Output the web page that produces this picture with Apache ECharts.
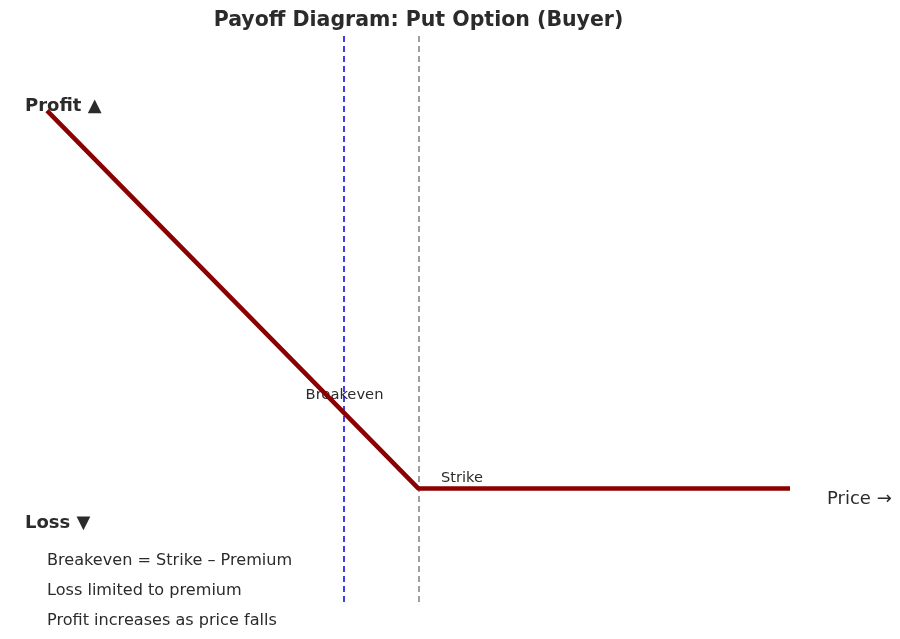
<!DOCTYPE html>
<html><head><meta charset="utf-8">
<script src="https://cdn.jsdelivr.net/npm/echarts@6/dist/echarts.min.js"></script>
<style>html,body{margin:0;padding:0;background:#fff}#c{width:900px;height:639px}</style>
</head><body><div id="c"></div>
<script>
const prices = [50, 100, 150];
const payoff = [40, -10, -10];
const strike = 100;
const breakeven = 90;
const titleText = 'Payoff Diagram: Put Option (Buyer)';
const notes = ['Breakeven = Strike – Premium', 'Loss limited to premium', 'Profit increases as price falls'];

const chart = echarts.init(document.getElementById('c'));
const F = 'DejaVu Sans';
const txt = (x, y, text, size, weight, align, z) => ({
  type: 'text', x: x, y: y, z: z || 10,
  style: { text: text, font: (weight || 'normal') + ' ' + size + 'px "' + F + '"', fill: '#2b2b2b', textAlign: align || 'left', textVerticalAlign: 'middle' }
});
chart.setOption({
  animation: false,
  backgroundColor: '#fff',
  grid: { left: 47, right: 110, top: 35, bottom: 37 },
  xAxis: { type: 'value', min: 50, max: 150, show: false },
  yAxis: { type: 'value', min: -25, max: 50, show: false },
  series: [{
    type: 'line', data: prices.map((p, i) => [p, payoff[i]]), symbol: 'none', z: 5,
    lineStyle: { color: '#8b0000', width: 4.5 },
    markLine: {
      silent: true, symbol: 'none', label: { show: false }, z: 3,
      data: [
        { xAxis: breakeven, lineStyle: { color: '#0000e0', type: [6, 4], width: 1.5 } },
        { xAxis: strike, lineStyle: { color: '#808080', type: [6, 4], width: 1.5 } }
      ]
    }
  }],
  graphic: [
    txt(418.5, 20.5, titleText, 20.5, 'bold', 'center'),
    txt(25, 106, 'Profit ▲', 18, 'bold'),
    txt(25, 523, 'Loss ▼', 18, 'bold'),
    txt(827, 499, 'Price →', 18),
    Object.assign(txt(344.5, 395, 'Breakeven', 14.7, 'normal', 'center'), { z: 1 }),
    txt(441, 478, 'Strike', 14.6),
    txt(47, 561, notes[0], 16.1),
    txt(47, 591, notes[1], 16.1),
    txt(47, 621, notes[2], 16.1)
  ]
});
</script></body></html>
